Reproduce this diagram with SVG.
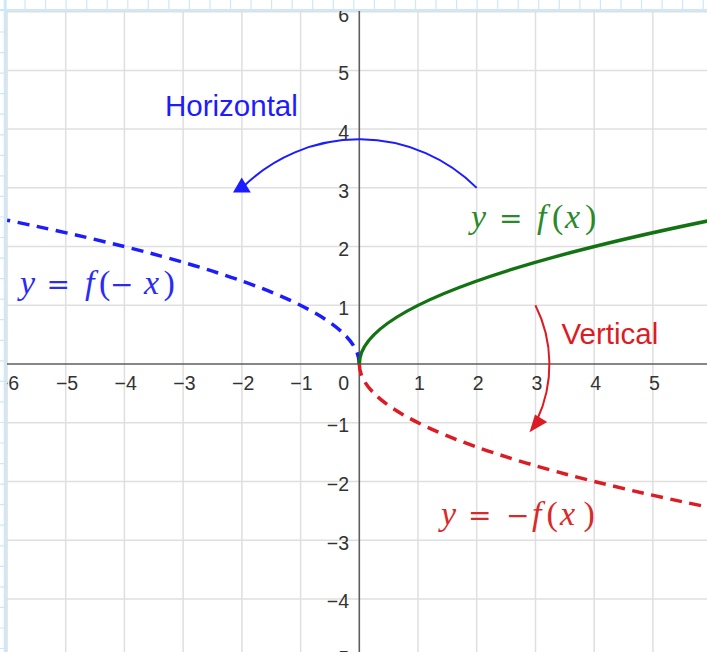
<svg xmlns="http://www.w3.org/2000/svg" width="707" height="652" viewBox="0 0 707 652">
<style>
.paper{stroke:#cde8fa;stroke-width:1.2;fill:none}
.grid{stroke:#dfdfdf;stroke-width:1.5;fill:none}
.axis{stroke:#5e5e5e;stroke-width:1.6;fill:none}
.tick{font-family:"Liberation Sans",Arial,sans-serif;font-size:19.5px;fill:#333333}
.tx{text-anchor:middle}
.ty{text-anchor:end}
.math{font-family:"Liberation Serif","Times New Roman",serif;font-size:34px}
.it{font-style:italic}
.op{font-family:"DejaVu Serif","Liberation Serif",serif;font-size:28px}
.word{font-family:"Liberation Sans",Arial,sans-serif;font-size:29.5px}
.blue{stroke:#1c1cff}
.red{stroke:#dc1c24}
.green{stroke:#137313}
.dash{stroke-width:3.5;fill:none;stroke-dasharray:12 7.5}
.solid{stroke-width:3.5;fill:none}
.arc{stroke-width:2;fill:none}
</style>
<defs>
<clipPath id="plot"><rect x="7" y="11" width="700" height="641"/></clipPath>
</defs>
<rect x="0" y="0" width="707" height="652" fill="#ffffff"/>
<g id="paper-border">
<line class="paper" x1="0" y1="10" x2="707" y2="10" style="stroke-width:2"/>
<line class="paper" x1="5.2" y1="0" x2="5.2" y2="652" style="stroke-width:3"/>
<path class="paper" d="M25,0V11 M45.6,0V11 M66.1,0V11 M86.7,0V11 M107.2,0V11 M127.8,0V11 M148.3,0V11 M168.9,0V11 M189.4,0V11 M210,0V11 M230.5,0V11 M251.1,0V11 M271.6,0V11 M292.2,0V11 M312.7,0V11 M333.3,0V11 M353.8,0V11 M374.4,0V11 M394.9,0V11 M415.5,0V11 M436,0V11 M456.6,0V11 M477.1,0V11 M497.7,0V11 M518.2,0V11 M538.8,0V11 M559.3,0V11 M579.9,0V11 M600.4,0V11 M621,0V11 M641.5,0V11 M662.1,0V11 M682.6,0V11 M703.2,0V11"/>
<path class="paper" d="M0,32H7 M0,52.6H7 M0,73.1H7 M0,93.7H7 M0,114.2H7 M0,134.8H7 M0,155.3H7 M0,175.9H7 M0,196.4H7 M0,217H7 M0,237.5H7 M0,258.1H7 M0,278.6H7 M0,299.2H7 M0,319.7H7 M0,340.3H7 M0,360.8H7 M0,381.4H7 M0,401.9H7 M0,422.5H7 M0,443H7 M0,463.6H7 M0,484.1H7 M0,504.7H7 M0,525.2H7 M0,545.8H7 M0,566.3H7 M0,586.9H7 M0,607.4H7 M0,628H7 M0,648.5H7"/>
</g>
<g id="grid">
<path class="grid" d="M7,11V652 M65.7,11V652 M124.4,11V652 M183.1,11V652 M241.9,11V652 M300.6,11V652 M418,11V652 M476.7,11V652 M535.5,11V652 M594.2,11V652 M652.9,11V652"/>
<path class="grid" d="M7,11.7H707 M7,70.4H707 M7,129.1H707 M7,187.8H707 M7,246.6H707 M7,305.3H707 M7,422.7H707 M7,481.4H707 M7,540.2H707 M7,598.9H707"/>
</g>
<g id="axes">
<line class="axis" x1="7" y1="364" x2="707" y2="364"/>
<line class="axis" x1="359.3" y1="11" x2="359.3" y2="652"/>
</g>
<g id="tick-labels" clip-path="url(#plot)">
<text class="tick tx" x="8" y="390">−6</text>
<text class="tick tx" x="67" y="390">−5</text>
<text class="tick tx" x="125.7" y="390">−4</text>
<text class="tick tx" x="184.4" y="390">−3</text>
<text class="tick tx" x="243.2" y="390">−2</text>
<text class="tick tx" x="301.4" y="390">−1</text>
<text class="tick ty" x="349" y="390">0</text>
<text class="tick tx" x="419.5" y="390">1</text>
<text class="tick tx" x="478.2" y="390">2</text>
<text class="tick tx" x="537" y="390">3</text>
<text class="tick tx" x="595.7" y="390">4</text>
<text class="tick tx" x="654.4" y="390">5</text>
<text class="tick ty" x="349" y="21.5">6</text>
<text class="tick ty" x="349" y="80.3">5</text>
<text class="tick ty" x="349" y="139">4</text>
<text class="tick ty" x="349" y="197.5">3</text>
<text class="tick ty" x="349" y="256.3">2</text>
<text class="tick ty" x="349" y="315">1</text>
<text class="tick ty" x="349" y="432">−1</text>
<text class="tick ty" x="349" y="491">−2</text>
<text class="tick ty" x="349" y="549.7">−3</text>
<text class="tick ty" x="349" y="608.4">−4</text>
<text class="tick ty" x="349" y="665">−5</text>
</g>
<g id="curves" clip-path="url(#plot)">
<path id="f-neg-x" class="dash blue" d="M359.3,364 Q359.3,292.1 7.1,220.2"/>
<path id="neg-f-x" class="dash red" d="M359.3,364 Q359.3,435.9 711.5,507.8"/>
<path id="f-x" class="solid green" d="M359.3,364 Q359.3,292.1 711.5,220.2"/>
</g>
<g id="connectors">
<g id="horizontal-arrow">
<path class="arc blue" d="M476.7,187.9 A166.03,166.03 0 0 0 243.5,186.5"/>
<polygon points="233,192.6 250.8,192.6 241.7,177.6" fill="#1c1cff"/>
</g>
<g id="vertical-arrow">
<path class="arc red" d="M535.4,305.3 A131.26,131.26 0 0 1 537,420"/>
<polygon points="529.5,432.3 535,414.5 547.2,422" fill="#dc1c24"/>
</g>
</g>
<g id="labels">
<text id="lbl-horizontal" class="word" x="165" y="116" fill="#1c1cff">Horizontal</text>
<text id="lbl-vertical" class="word" x="561.5" y="344.3" fill="#dc1c24">Vertical</text>
<text id="lbl-fx" class="math" y="228" fill="#2a8a2a"><tspan class="it" x="471">y</tspan><tspan class="op" x="499">=</tspan><tspan class="it" x="537">f</tspan><tspan x="552">(</tspan><tspan class="it" x="565">x</tspan><tspan x="585">)</tspan></text>
<text id="lbl-f-neg-x" class="math" y="294" fill="#2b2bf5"><tspan class="it" x="20">y</tspan><tspan class="op" x="46.5">=</tspan><tspan class="it" x="85">f</tspan><tspan x="99">(</tspan><tspan class="op" x="110">−</tspan><tspan class="it" x="144">x</tspan><tspan x="163.5">)</tspan></text>
<text id="lbl-neg-fx" class="math" y="525" fill="#d82a2a"><tspan class="it" x="441">y</tspan><tspan class="op" x="468">=</tspan><tspan class="op" x="506">−</tspan><tspan class="it" x="532">f</tspan><tspan x="546.5">(</tspan><tspan class="it" x="560">x</tspan><tspan x="583.5">)</tspan></text>
</g>
</svg>
